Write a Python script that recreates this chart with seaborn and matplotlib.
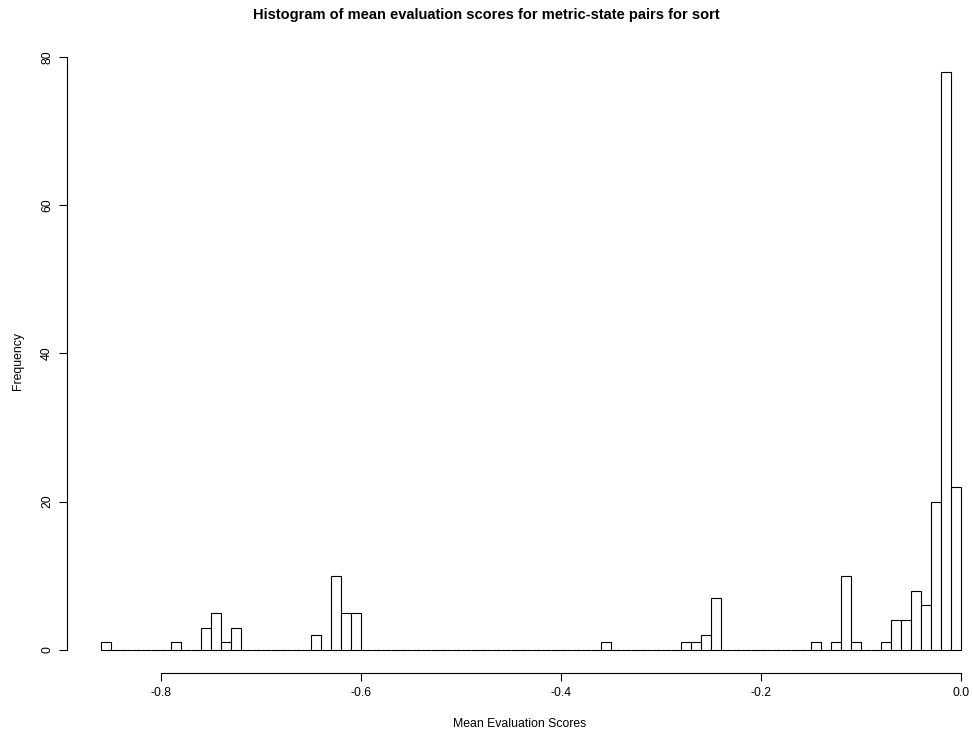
import numpy as np
import pandas as pd
import matplotlib
matplotlib.use("Agg")
import matplotlib.pyplot as plt
import seaborn as sns

# Histogram data (bin lower edges of non-empty bins, bin width 0.01) and counts
bin_lower = [-0.86, -0.79, -0.76, -0.75, -0.74, -0.73, -0.65, -0.63, -0.62, -0.61,
             -0.36, -0.28, -0.27, -0.26, -0.25, -0.15, -0.13, -0.12, -0.11,
             -0.08, -0.07, -0.06, -0.05, -0.04, -0.03, -0.02, -0.01]
counts = [1, 1, 3, 5, 1, 3, 2, 10, 5, 5,
          1, 1, 1, 2, 7, 1, 1, 10, 1,
          1, 4, 4, 8, 6, 20, 78, 22]
bin_width = 0.01
hist_start, hist_end = -0.86, 0.0
x_ticks = [-0.8, -0.6, -0.4, -0.2, 0.0]
x_tick_labels = ["-0.8", "-0.6", "-0.4", "-0.2", "0.0"]
y_ticks = [0, 20, 40, 60, 80]

df = pd.DataFrame({"score": np.array(bin_lower) + bin_width / 2, "n": counts})

sns.set_style("white")
plt.rcParams["font.family"] = ["Liberation Sans", "DejaVu Sans"]
plt.rcParams["text.color"] = "black"
plt.rcParams["axes.labelcolor"] = "black"
plt.rcParams["xtick.color"] = "black"
plt.rcParams["ytick.color"] = "black"

W, H = 973, 738
fig = plt.figure(figsize=(W / 100, H / 100), dpi=100)
left_px, right_px, top_px, bottom_px = 67, 973, 48.7, 673
ax = fig.add_axes([left_px / W, 1 - bottom_px / H, (right_px - left_px) / W, (bottom_px - top_px) / H])

sns.histplot(data=df, x="score", weights="n", binwidth=bin_width,
             binrange=(hist_start, hist_end), ax=ax,
             color="white", edgecolor="black", linewidth=0.8, alpha=1, fill=True)

ax.set_xlim(-0.8944, 0.012)
ax.set_ylim(-3.12, 81.12)

for s in ["top", "right"]:
    ax.spines[s].set_visible(False)
ax.spines["left"].set_bounds(0, 80)
ax.spines["bottom"].set_bounds(-0.8, 0.0)
for s in ["left", "bottom"]:
    ax.spines[s].set_color("black")
    ax.spines[s].set_linewidth(0.8)

ax.set_xticks(x_ticks)
ax.set_xticklabels(x_tick_labels)
ax.set_yticks(y_ticks)
ax.set_yticklabels([str(v) for v in y_ticks], rotation=90, va="center")
ax.tick_params(axis="both", direction="out", length=6, width=0.8, color="black",
               labelcolor="black", labelsize=8.8, pad=4, bottom=True, left=True)

ax.set_xlabel("Mean Evaluation Scores", fontsize=8.8, labelpad=14, color="black")
ax.set_ylabel("Frequency", fontsize=8.8, labelpad=12, color="black")
fig.suptitle("Histogram of mean evaluation scores for metric-state pairs for sort",
             fontsize=10.5, fontweight="bold", y=1 - 14.5 / H, va="center", color="black")

fig.savefig("out.png", dpi=100, facecolor="white")
